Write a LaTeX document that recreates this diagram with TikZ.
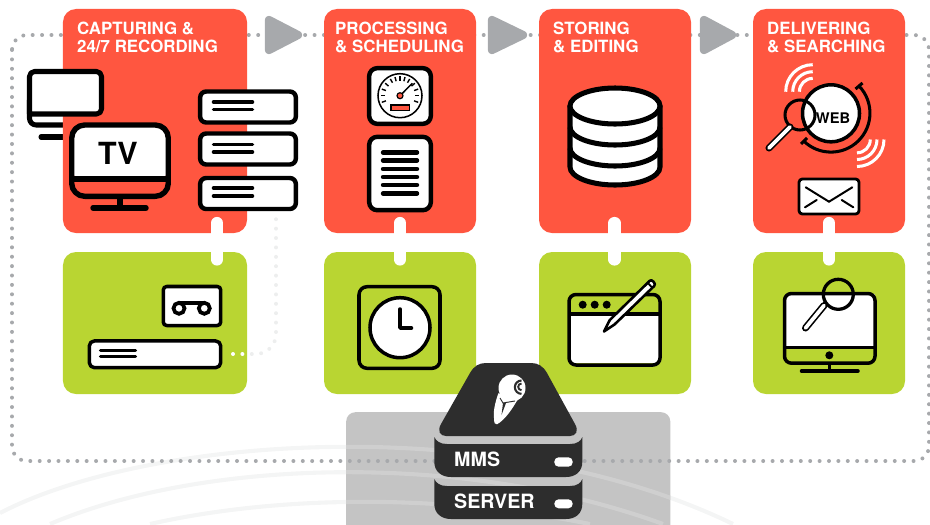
\documentclass[tikz,border=0pt]{standalone}
\usepackage{fontspec}
\setmainfont{TeX Gyre Heros}
\definecolor{boxred}{HTML}{FF5640}
\definecolor{boxgreen}{HTML}{B9D532}
\definecolor{boxgray}{HTML}{C4C4C4}
\definecolor{dotgray}{HTML}{A7A9AC}
\definecolor{servergray}{HTML}{2D2D2D}
\definecolor{arcpale}{HTML}{F4F5F5}
\definecolor{arcmid}{HTML}{CFCFCF}
\definecolor{dotpale}{HTML}{EDEEEE}
\begin{document}
\begin{tikzpicture}[x=0.03cm,y=-0.03cm]
% Styles
\tikzset{
  redbox/.style={rectangle, fill=boxred, rounded corners=0.39cm, inner sep=0pt, minimum height=6.72cm},
  greenbox/.style={rectangle, fill=boxgreen, rounded corners=0.39cm, inner sep=0pt, minimum height=4.26cm},
  wide/.style={minimum width=5.52cm},
  narrow/.style={minimum width=4.56cm},
  steptitle/.style={anchor=north west, inner sep=0pt, align=left, text=white, font=\fontsize{14.4}{14.8}\selectfont\bfseries},
  loopdots/.style={dotgray, line width=3.4pt, line cap=round, dash pattern=on 0pt off 8.02pt},
  tie/.style={white, line width=10.4pt, line cap=round},
  arrowhead/.style={fill=dotgray, draw=dotgray, line width=7pt, line join=round},
  icon/.style={draw=black, fill=white, line width=3.8pt, line join=round},
  iconline/.style={black, line width=3.8pt, line cap=round, line join=round},
  thinline/.style={black, line width=3pt, line cap=round, line join=round},
  rack/.style={rectangle, icon, rounded corners=0.18cm, minimum width=2.87cm, minimum height=0.93cm, inner sep=0pt},
  wave/.style={white, line width=2.6pt},
  bigarc/.style={line width=3.5pt},
  servertext/.style={anchor=base west, inner sep=0pt, text=white, font=\fontsize{16.8}{18}\selectfont\bfseries}
}
\useasboundingbox (0,0) rectangle (930,524);

% Background arcs
\draw[arcpale, bigarc] (0,513) .. controls (150,435) and (500,411) .. (733,524);
\draw[arcpale, bigarc] (50,524) .. controls (200,460) and (460,450) .. (663,524);
\draw[arcpale, bigarc] (150,524) .. controls (270,497) and (430,492) .. (590,524);

% Server backdrop
\node[rectangle, fill=boxgray, rounded corners=0.27cm, inner sep=0pt, minimum width=9.72cm, minimum height=4.2cm, anchor=north west] (server_back) at (346,412) {};
\begin{scope}
\clip (346,412) rectangle (670,524);
\draw[arcmid, bigarc] (0,513) .. controls (150,435) and (500,411) .. (733,524);
\draw[arcmid, bigarc] (50,524) .. controls (200,460) and (460,450) .. (663,524);
\draw[arcmid, bigarc] (150,524) .. controls (270,497) and (430,492) .. (590,524);
\end{scope}

% Dotted loop
\coordinate (loop_nw) at (12,35);
\coordinate (loop_se) at (929,461);
\draw[loopdots, rounded corners=0.45cm] (loop_nw) rectangle (loop_se);

% Recorder link
\coordinate (rec_start) at (233,354);
\coordinate (rec_bend) at (276,354);
\coordinate (rec_end) at (276,218);
\draw[loopdots, dotpale, rounded corners=0.6cm] (rec_start) -- (rec_bend) -- (rec_end);

% Back monitor
\draw[iconline, line width=4.3pt, rounded corners=0.2cm, fill=white] (29.5,100) -- (29.5,125) -- (101.5,125) -- (101.5,100);
\draw[iconline, line width=4.3pt] (41,137) -- (70,137);

% Boxes
\node[redbox, wide] (capture_box) at (155,121) {};
\node[redbox, narrow] (process_box) at (400,121) {};
\node[redbox, narrow] (store_box) at (615,121) {};
\node[redbox, narrow] (deliver_box) at (829,121) {};
\node[greenbox, wide] (tape_box) at (155,323) {};
\node[greenbox, narrow] (clock_box) at (400,323) {};
\node[greenbox, narrow] (edit_box) at (615,323) {};
\node[greenbox, narrow] (search_box) at (829,323) {};

% White part of recorder link
\begin{scope}
\clip (63,252) rectangle (247,394);
\draw[loopdots, white, rounded corners=0.6cm] (rec_start) -- (rec_bend) -- (rec_end);
\end{scope}

% Titles
\node[steptitle] (capture_title) at (77,22) {CAPTURING \&\\24/7 RECORDING};
\node[steptitle] (process_title) at (335,22) {PROCESSING\\\& SCHEDULING};
\node[steptitle] (store_title) at (553,22) {STORING\\\& EDITING};
\node[steptitle] (deliver_title) at (767,22) {DELIVERING\\\& SEARCHING};

% Arrowheads
\draw[arrowhead] (269,20) -- (298,35) -- (269,50) -- cycle;
\draw[arrowhead] (492,20) -- (523,35) -- (492,50) -- cycle;
\draw[arrowhead] (704,20) -- (732,35) -- (704,50) -- cycle;

% Links red to green
\coordinate (capture_top) at (217,223);
\coordinate (capture_end) at (217,259.5);
\coordinate (process_top) at (400,223);
\coordinate (process_end) at (400,259.5);
\coordinate (store_top) at (614.5,223);
\coordinate (store_end) at (614.5,259.5);
\coordinate (deliver_top) at (829,223);
\coordinate (deliver_end) at (829,259.5);
\draw[tie] (capture_top) -- (capture_end);
\draw[tie] (process_top) -- (process_end);
\draw[tie] (store_top) -- (store_end);
\draw[tie] (deliver_top) -- (deliver_end);

% Back monitor screen
\draw[icon, line width=4.3pt, rounded corners=0.15cm] (29.5,114) -- (29.5,71.5) -- (101.5,71.5) -- (101.5,114) [sharp corners] -- cycle;

% TV
\draw[icon, draw=none, rounded corners=0.25cm] (72,178) -- (72,125) -- (168,125) -- (168,178) -- cycle;
\draw[iconline, line width=4.6pt, rounded corners=0.39cm] (71.7,125) rectangle (168.3,196.3);
\draw[iconline, line width=4.6pt, line cap=butt] (71.7,179) -- (168.3,179);
\draw[iconline, line width=4.3pt, line cap=butt] (120,197) -- (120,208);
\draw[iconline, line width=4.6pt] (93,208) -- (146,208);
\node[inner sep=0pt, font=\fontsize{26}{26}\selectfont\bfseries] (tv_label) at (118,153) {TV};

% Racks
\node[rack] (rack_one) at (248,107) {};
\node[rack] (rack_two) at (248,149) {};
\node[rack] (rack_three) at (248,193.5) {};
\draw[thinline] (213.5,102) -- (252.5,102);
\draw[thinline] (213.5,109.5) -- (252.5,109.5);
\draw[thinline] (213.5,144.6) -- (252.5,144.6);
\draw[thinline] (213.5,152) -- (252.5,152);
\draw[thinline] (213.5,188) -- (252.5,188);
\draw[thinline] (213.5,196) -- (252.5,196);

% Gauge
\node[rack, minimum width=1.85cm, minimum height=1.67cm, rounded corners=0.24cm] (gauge_frame) at (400,96) {};
\coordinate (gauge_c) at (400,95.7);
\draw[black, line width=1.3pt] (gauge_c) circle (22);
\foreach \a in {-20,0,20,40,60,75,90,105,120,140,160,180,200}
  \draw[black, line width=1.2pt] (gauge_c) ++(\a:0.45cm) -- ++(\a:0.13cm);
\draw[black, line width=1.3pt] (gauge_c) -- (412.3,83.3);
\draw[black, fill=boxred, line width=1pt] (gauge_c) circle (3);
\draw[black, fill=boxred, line width=1pt] (391,105) rectangle (409.5,110.7);

% Document
\node[rack, minimum width=1.85cm, minimum height=2.2cm, rounded corners=0.24cm] (doc_frame) at (400,173.5) {};
\draw[iconline] (383,152.5) -- (417,152.5);
\draw[iconline] (383,160.5) -- (417,160.5);
\draw[iconline] (383,169) -- (417,169);
\draw[iconline] (383,177) -- (417,177);
\draw[iconline] (383,185) -- (417,185);
\draw[iconline] (383,193.5) -- (417,193.5);

% Database
\draw[icon, line width=4.3pt] (570,106) -- (570,167) arc[start angle=180, end angle=360, x radius=1.35cm, y radius=0.54cm] -- (660,106) -- cycle;
\draw[black, fill=white, line width=4.3pt] (615,106) ellipse [x radius=1.35cm, y radius=0.54cm];
\draw[black, line width=4.3pt] (570,127) arc[start angle=180, end angle=360, x radius=1.35cm, y radius=0.54cm];
\draw[black, line width=4.3pt] (570,148) arc[start angle=180, end angle=360, x radius=1.35cm, y radius=0.54cm];

% Web search
\draw[wave] (785.7,91.7) arc[start angle=180, end angle=90, radius=0.81cm];
\draw[wave] (792.7,91.7) arc[start angle=180, end angle=90, radius=0.6cm];
\draw[wave] (799.4,91.7) arc[start angle=180, end angle=90, radius=0.4cm];
\draw[wave] (884,139.5) arc[start angle=0, end angle=-90, radius=0.81cm];
\draw[wave] (877,139.5) arc[start angle=0, end angle=-90, radius=0.6cm];
\draw[wave] (870.3,139.5) arc[start angle=0, end angle=-90, radius=0.4cm];
\draw[black, fill=white, line width=3pt] (831,113.3) circle (28.5);
\draw[black, line width=2.6pt] (859,86) arc[start angle=44, end angle=-134, radius=1.17cm];
\draw[black, line width=2.6pt] (855.5,89) -- (862.5,83);
\draw[black, line width=2.6pt] (801,144) -- (807,138);
\draw[black, line width=2.6pt] (800,115) circle (15);
\draw[black, line width=6pt, line cap=round] (769,148) -- (790,127);
\draw[white, line width=3.2pt, line cap=round] (769,148) -- (790,127);
\node[inner sep=0pt, font=\fontsize{12.5}{13}\selectfont\bfseries] (web_label) at (833,118) {WEB};

% Envelope
\node[rack, line width=2.4pt, minimum width=1.8cm, minimum height=1.05cm, rounded corners=0.1cm] (mail_frame) at (829,196.5) {};
\draw[black, line width=1.7pt, line cap=round] (805.7,187.3) -- (829,201.7) -- (852.3,187.3);
\draw[black, line width=1.7pt, line cap=round] (805,207.3) -- (816.7,200);
\draw[black, line width=1.7pt, line cap=round] (853.3,207.3) -- (841.7,200);

% Tape and recorder
\node[rack, line width=3pt, minimum width=1.72cm, minimum height=1.17cm, rounded corners=0.1cm] (tape_frame) at (192,306) {};
\node[rack, line width=3pt, minimum width=3.94cm, minimum height=0.8cm, rounded corners=0.15cm] (vcr_frame) at (155,354.3) {};
\draw[thinline, line width=3.2pt] (179,303) -- (204.3,303);
\draw[black, fill=white, line width=3.2pt] (179,308.3) circle (5.5);
\draw[black, fill=white, line width=3.2pt] (204.3,308.3) circle (5.5);
\draw[thinline, line width=2.6pt] (100.5,350.7) -- (135.5,350.7);
\draw[thinline, line width=2.6pt] (100.5,356.7) -- (135.5,356.7);

% Clock
\draw[thinline, rounded corners=0.24cm] (359,286.7) rectangle (440,368.3);
\draw[black, fill=white, line width=3pt] (400,327.7) circle (30);
\draw[thinline] (400,309) -- (400,328) -- (411.5,328);

% Window and pencil
\draw[icon, draw=none] (569,314) rectangle (660,363);
\draw[thinline, rounded corners=0.21cm] (569,294.5) rectangle (660,365);
\draw[thinline, line cap=butt] (569,314) -- (660,314);
\fill[black] (582.7,304.7) circle (4);
\fill[black] (594.7,304.7) circle (4);
\fill[black] (606.7,304.7) circle (4);
\draw[black, fill=white, line width=2.2pt, line join=round] (604,331.5) -- (609.8,320) -- (649.5,281) .. controls (651,278) and (657,284) .. (654.2,286) -- (614.5,324.5) -- cycle;
\draw[black, line width=1.6pt] (647.5,282.5) -- (652.5,288);

% Monitor and magnifier
\draw[icon, draw=none] (784.5,293.5) rectangle (875,346);
\draw[thinline, rounded corners=0.21cm] (784.5,293.5) rectangle (875,363.2);
\draw[thinline, line cap=butt] (784.5,347.5) -- (875,347.5);
\fill[black] (829.3,355.3) circle (4);
\draw[thinline, line cap=butt] (829.5,364) -- (829.5,371);
\draw[thinline] (801.5,371) -- (858,371);
\draw[black, line width=2.8pt] (838.3,294.3) circle (15);
\draw[black, line width=6pt, line cap=round] (805.5,328) -- (824,305.5);
\draw[white, line width=3.2pt, line cap=round] (805.5,328) -- (824,305.5);

% Server
\fill[servergray] (486,363) -- (531,363) .. controls (538,363) and (543,366) .. (547,373) -- (575,424) .. controls (579,431) and (576,436) .. (570,436) -- (446,436) .. controls (440,436) and (437,431) .. (441,424) -- (470,373) .. controls (474,366) and (479,363) .. (486,363) -- cycle;
\fill[servergray] (434.3,437) .. controls (436,441) and (440,444) .. (447,444) -- (570,444) .. controls (577,444) and (581,441) .. (582.3,437) -- (582.3,462) .. controls (582.3,471) and (576,477) .. (566,477) -- (451,477) .. controls (441,477) and (434.3,471) .. (434.3,462) -- cycle;
\fill[servergray] (434.3,479) .. controls (436,483) and (440,486) .. (447,486) -- (570,486) .. controls (577,486) and (581,483) .. (582.3,479) -- (582.3,504) .. controls (582.3,513) and (576,519) .. (566,519) -- (451,519) .. controls (441,519) and (434.3,513) .. (434.3,504) -- cycle;
\node[servertext] (mms_label) at (454,466.7) {MMS};
\node[servertext] (server_label) at (454,508.3) {SERVER};
\fill[white, rounded corners=0.13cm] (554.3,457.3) rectangle (572.7,466.7);
\fill[white, rounded corners=0.13cm] (554.3,499.3) rectangle (572.7,508.3);

% Logo
\fill[white] (498.3,393.3) .. controls (495,403) and (493,412) .. (494,418) .. controls (494,423) and (495,425) .. (497,424.3) .. controls (505,420) and (513,408) .. (518.3,398.3) -- cycle;
\fill[white] (512,388) circle (13.5);
\draw[servergray, line width=0.8pt] (500,398) -- (503,403) -- (515,401);
\fill[servergray] (503,403) -- (506,403) -- (501.5,415) -- cycle;
\draw[servergray, line width=1.8pt] (521.5,380.5) arc[start angle=90, end angle=270, radius=0.2cm];
\draw[servergray, line width=1.6pt] (521.5,383.5) arc[start angle=90, end angle=270, radius=0.1cm];
\end{tikzpicture}
\end{document}
